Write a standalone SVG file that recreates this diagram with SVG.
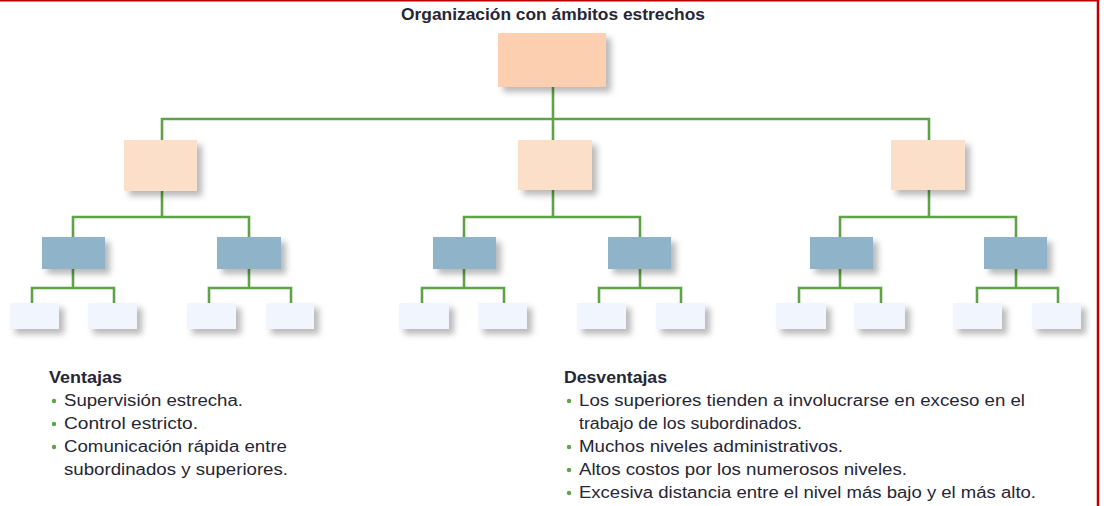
<svg xmlns="http://www.w3.org/2000/svg" width="1104" height="506" viewBox="0 0 1104 506">
<style>
.c{fill:none;stroke:#5ea447;stroke-width:2.6;stroke-linecap:square;stroke-linejoin:miter}
.n1{fill:#fccfb0;filter:url(#sh)}
.n2{fill:#fcdfc8;filter:url(#sh)}
.n3{fill:#8fb4c9;filter:url(#sh)}
.n4{fill:#f1f5fd;filter:url(#sh)}
.t{font-family:"Liberation Sans",Arial,sans-serif;fill:#262636;font-size:16px}
.h{font-weight:bold;font-size:17px}
.b{fill:#5ea447}
</style>
<defs>
<filter id="sh" x="-30%" y="-30%" width="170%" height="180%">
<feDropShadow dx="5" dy="5" stdDeviation="3" flood-color="#000" flood-opacity="0.28"/>
</filter>
</defs>
<rect x="0" y="0" width="1104" height="506" fill="#fff"/>
<line x1="0" y1="0.5" x2="1098" y2="0.5" stroke="#c00000" stroke-width="2"/>
<line x1="1098" y1="0" x2="1098" y2="506" stroke="#c00000" stroke-width="2.5"/>
<text class="t h" x="553" y="20" text-anchor="middle" textLength="304" lengthAdjust="spacingAndGlyphs">Organización con ámbitos estrechos</text>
<g id="connectors">
<path class="c" d="M553 87V119M162 140V119H929V140M553 119V140"/>
<path class="c" d="M162 191V217M73 237V217H249V237"/>
<path class="c" d="M553 190V217M464 237V217H640V237"/>
<path class="c" d="M929 190V217M840 237V217H1016V237"/>
<path class="c" d="M73 269V288M32 303V288H114V303"/>
<path class="c" d="M249 269V288M209 303V288H291V303"/>
<path class="c" d="M464 269V288M422 303V288H504V303"/>
<path class="c" d="M640 269V288M599 303V288H681V303"/>
<path class="c" d="M840 269V288M799 303V288H881V303"/>
<path class="c" d="M1016 269V288M977 303V288H1058V303"/>
</g>
<g id="top"><rect class="n1" x="498" y="33" width="108" height="54"/></g>
<g id="m1"><rect class="n2" x="124" y="140" width="73" height="51"/></g>
<g id="m2"><rect class="n2" x="518" y="140" width="74" height="50"/></g>
<g id="m3"><rect class="n2" x="891" y="140" width="74" height="50"/></g>
<g id="s1"><rect class="n3" x="42" y="237" width="63" height="32"/></g>
<g id="s2"><rect class="n3" x="217" y="237" width="64" height="32"/></g>
<g id="s3"><rect class="n3" x="433" y="237" width="63" height="32"/></g>
<g id="s4"><rect class="n3" x="608" y="237" width="63" height="32"/></g>
<g id="s5"><rect class="n3" x="810" y="237" width="63" height="32"/></g>
<g id="s6"><rect class="n3" x="984" y="237" width="63" height="32"/></g>
<g id="w1"><rect class="n4" x="10" y="303" width="49" height="26"/></g>
<g id="w2"><rect class="n4" x="88" y="303" width="49" height="26"/></g>
<g id="w3"><rect class="n4" x="187" y="303" width="49" height="26"/></g>
<g id="w4"><rect class="n4" x="266" y="303" width="48" height="26"/></g>
<g id="w5"><rect class="n4" x="399" y="303" width="50" height="26"/></g>
<g id="w6"><rect class="n4" x="478" y="303" width="49" height="26"/></g>
<g id="w7"><rect class="n4" x="577" y="303" width="49" height="26"/></g>
<g id="w8"><rect class="n4" x="656" y="303" width="49" height="26"/></g>
<g id="w9"><rect class="n4" x="776" y="303" width="50" height="26"/></g>
<g id="w10"><rect class="n4" x="854" y="303" width="51" height="26"/></g>
<g id="w11"><rect class="n4" x="953" y="303" width="49" height="26"/></g>
<g id="w12"><rect class="n4" x="1032" y="303" width="49" height="26"/></g>
<g id="ventajas">
<text class="t h" x="49" y="383" textLength="73" lengthAdjust="spacingAndGlyphs">Ventajas</text>
<circle class="b" cx="54" cy="401" r="2.2"/>
<circle class="b" cx="54" cy="424" r="2.2"/>
<circle class="b" cx="54" cy="447" r="2.2"/>
<text class="t" x="64" y="406" textLength="179" lengthAdjust="spacingAndGlyphs">Supervisión estrecha.</text>
<text class="t" x="64" y="429" textLength="134" lengthAdjust="spacingAndGlyphs">Control estricto.</text>
<text class="t" x="64" y="452" textLength="223" lengthAdjust="spacingAndGlyphs">Comunicación rápida entre</text>
<text class="t" x="64" y="475" textLength="224" lengthAdjust="spacingAndGlyphs">subordinados y superiores.</text>
</g>
<g id="desventajas">
<text class="t h" x="564" y="383" textLength="103" lengthAdjust="spacingAndGlyphs">Desventajas</text>
<circle class="b" cx="569" cy="401" r="2.2"/>
<circle class="b" cx="569" cy="447" r="2.2"/>
<circle class="b" cx="569" cy="470" r="2.2"/>
<circle class="b" cx="569" cy="493" r="2.2"/>
<text class="t" x="579" y="406" textLength="446" lengthAdjust="spacingAndGlyphs">Los superiores tienden a involucrarse en exceso en el</text>
<text class="t" x="579" y="429" textLength="223" lengthAdjust="spacingAndGlyphs">trabajo de los subordinados.</text>
<text class="t" x="579" y="452" textLength="264" lengthAdjust="spacingAndGlyphs">Muchos niveles administrativos.</text>
<text class="t" x="579" y="475" textLength="328" lengthAdjust="spacingAndGlyphs">Altos costos por los numerosos niveles.</text>
<text class="t" x="579" y="498" textLength="457" lengthAdjust="spacingAndGlyphs">Excesiva distancia entre el nivel más bajo y el más alto.</text>
</g>
</svg>
